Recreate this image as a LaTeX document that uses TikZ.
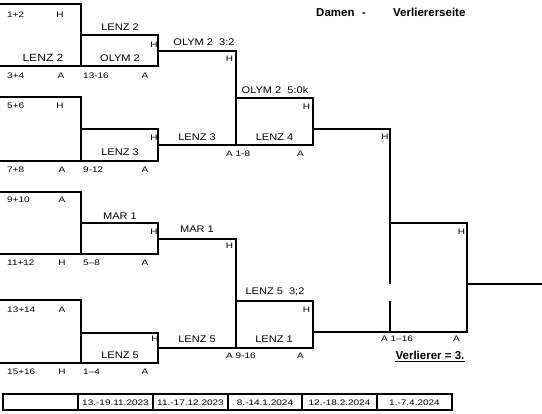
\documentclass[tikz,border=0pt]{standalone}
\usepackage{fontspec}
\setmainfont{Liberation Sans}
\newfontfamily\sfa[FakeStretch=1.15]{Liberation Sans}
\newfontfamily\sfb[FakeStretch=1.25]{Liberation Sans}
\begin{document}
\begin{tikzpicture}[x=1pt,y=-1pt,
  br/.style={line width=2.6pt, line join=miter},
  tb/.style={line width=1.4pt},
  sm/.style={font=\sfb\fontsize{8}{9}\selectfont, inner sep=0pt, text height=5.7pt, text depth=0pt},
  tm/.style={font=\sfa\fontsize{9.6}{11}\selectfont, inner sep=0pt, text height=6.9pt, text depth=0pt},
  tmb/.style={font=\sfa\fontsize{10.5}{12}\selectfont, inner sep=0pt, text height=7.5pt, text depth=0pt},
  ttl/.style={font=\bfseries\fontsize{11.5}{13}\selectfont, inner sep=0pt, text height=8.2pt, text depth=0pt},
  dt/.style={font=\sfb\fontsize{8}{9}\selectfont, inner sep=0pt, text height=5.7pt, text depth=0pt}]
\useasboundingbox (0,0) rectangle (542,414);

% ---- first round brackets
\draw[br] (0,4) -- (81,4) -- (81,66);
\draw[br] (0,66) -- (158,66) -- (158,35) -- (81,35);
\draw[br] (0,97) -- (81,97) -- (81,161);
\draw[br] (0,161) -- (158,161) -- (158,129) -- (81,129);
\draw[br] (0,192) -- (81,192) -- (81,254);
\draw[br] (0,254) -- (158,254) -- (158,223) -- (81,223);
\draw[br] (0,300) -- (81,300) -- (81,363);
\draw[br] (0,363) -- (158,363) -- (158,333) -- (81,333);

% ---- second round
\draw[br] (158,51) -- (236,51) -- (236,145);
\draw[br] (158,145) -- (313,145) -- (313,98) -- (236,98);
\draw[br] (158,239) -- (236,239) -- (236,348);
\draw[br] (158,348) -- (313,348) -- (313,301) -- (236,301);

% ---- final
\draw[br] (313,129) -- (390,129) -- (390,284);
\draw[br] (390,301) -- (390,332);
\draw[br] (313,332) -- (467,332) -- (467,223) -- (390,223);
\draw[br] (467,284) -- (542,284);

% ---- title
\node[ttl, anchor=west] (t1) at (316,12) {Damen};
\node[ttl] (t2) at (364,12) {-};
\node[ttl, anchor=west] (t3) at (393,12) {Verliererseite};

% ---- group 1
\node[sm, anchor=west] (a1) at (7,15) {1+2};
\node[sm] (a2) at (60,15) {H};
\node[tmb] (a3) at (43,58) {LENZ 2};
\node[sm, anchor=west] (a4) at (7,76) {3+4};
\node[sm] (a5) at (61,76) {A};
\node[sm, anchor=west] (a6) at (83,76) {13-16};
\node[sm] (a7) at (145,76) {A};
\node[tm] (a8) at (120,27) {LENZ 2};
\node[sm] (a9) at (154,45) {H};
\node[tm] (a10) at (120,58) {OLYM 2};

% ---- group 2
\node[sm, anchor=west] (b1) at (7,106) {5+6};
\node[sm] (b2) at (60,106) {H};
\node[sm, anchor=west] (b3) at (7,170) {7+8};
\node[sm] (b4) at (62,170) {A};
\node[sm, anchor=west] (b5) at (83,170) {9-12};
\node[sm] (b6) at (145,170) {A};
\node[sm] (b7) at (154,138) {H};
\node[tm] (b8) at (120,152) {LENZ 3};

% ---- group 3
\node[sm, anchor=west] (c1) at (7,200) {9+10};
\node[sm] (c2) at (62,200) {A};
\node[tm] (c3) at (120,216) {MAR 1};
\node[sm] (c4) at (154,232) {H};
\node[sm, anchor=west] (c5) at (7,263) {11+12};
\node[sm] (c6) at (62,263) {H};
\node[sm, anchor=west] (c7) at (83,263) {5–8};
\node[sm] (c8) at (145,263) {A};

% ---- group 4
\node[sm, anchor=west] (d1) at (7,310) {13+14};
\node[sm] (d2) at (62,310) {A};
\node[sm] (d3) at (155,339) {H};
\node[tm] (d4) at (120,355) {LENZ 5};
\node[sm, anchor=west] (d5) at (7,372) {15+16};
\node[sm] (d6) at (62,372) {H};
\node[sm, anchor=west] (d7) at (83,372) {1–4};
\node[sm] (d8) at (145,372) {A};

% ---- second round labels upper
\node[tm] (e1) at (204,42) {OLYM 2\ \ 3:2};
\node[sm] (e2) at (229.5,59) {H};
\node[tm] (e3) at (275,90) {OLYM 2\ \ 5:0k};
\node[sm] (e4) at (306.5,107) {H};
\node[tm] (e5) at (197,137) {LENZ 3};
\node[tm] (e6) at (274.5,137) {LENZ 4};
\node[sm, anchor=west] (e7) at (226,154) {A 1-8};
\node[sm] (e8) at (300.5,154) {A};

% ---- second round labels lower
\node[tm] (f1) at (197,229) {MAR 1};
\node[sm] (f2) at (229.5,246) {H};
\node[tm] (f3) at (275,291) {LENZ 5\ \ 3;2};
\node[sm] (f4) at (306.5,310) {H};
\node[tm] (f5) at (197,339) {LENZ 5};
\node[tm] (f6) at (274,339) {LENZ 1};
\node[sm, anchor=west] (f7) at (226,356) {A 9-16};
\node[sm] (f8) at (300.5,356) {A};

% ---- final labels
\node[sm] (g1) at (385,137) {H};
\node[sm] (g2) at (461.5,232) {H};
\node[sm, anchor=west] (g3) at (381,339) {A 1–16};
\node[sm] (g4) at (456.5,339) {A};
\node[ttl] (g5) at (430,355) {Verlierer = 3.};
\draw[line width=1.1pt] ([yshift=-2.5pt]g5.south west) -- ([yshift=-2.5pt]g5.south east);

% ---- dates table
\draw[tb] (3,394) rectangle (452,410);
\foreach \xx in {78,153,228,302,377} \draw[tb] (\xx,394) -- (\xx,410);
\node[dt] (h1) at (115.5,402.5) {13.-19.11.2023};
\node[dt] (h2) at (190.5,402.5) {11.-17.12.2023};
\node[dt] (h3) at (265,402.5) {8.-14.1.2024};
\node[dt] (h4) at (339.5,402.5) {12.-18.2.2024};
\node[dt] (h5) at (414.5,402.5) {1.-7.4.2024};
\end{tikzpicture}
\end{document}
